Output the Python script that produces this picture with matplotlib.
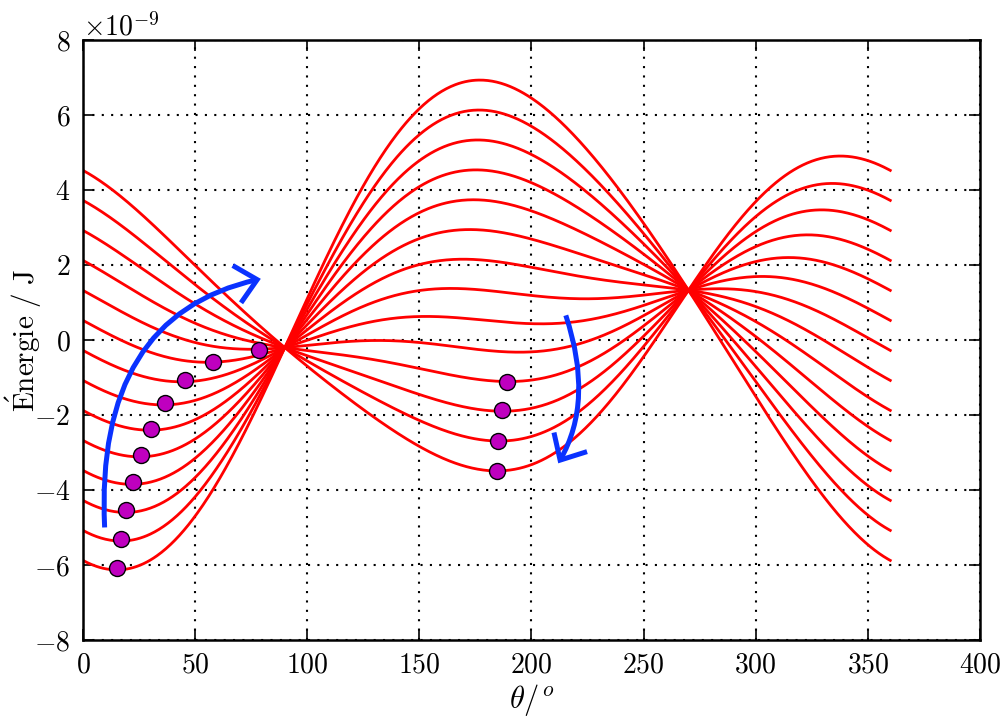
import numpy as np
import matplotlib
matplotlib.use("Agg")
import matplotlib.pyplot as plt
from matplotlib.patches import FancyArrowPatch

plt.rcParams['font.family'] = 'serif'
plt.rcParams['font.serif'] = ['cmr10', 'DejaVu Serif']
plt.rcParams['mathtext.fontset'] = 'cm'
plt.rcParams['axes.formatter.use_mathtext'] = True
plt.rcParams['axes.unicode_minus'] = True

# ---- data ---------------------------------------------------------------
# energy model E(theta) = A0 + A2 cos2θ + B1 sinθ + B2 sin2θ + C cosθ   (units 1e-9 J)
A0 = 0.545
A2 = -0.02
B1 = -0.765
B2 = -0.55
# family parameter (cosθ coefficient) for the 14 curves
C_values = [-6.4, -5.6, -4.8, -4.0, -3.2, -2.4, -1.6, -0.8, 0.0, 0.8, 1.6, 2.4, 3.2, 4.0]
SCALE = 1e-9

# marked minima (theta in degrees, energy in 1e-9 J)
min_theta = [15.3, 17.1, 19.3, 22.2, 25.7, 30.3, 36.7, 45.3, 57.8, 78.6,
             188.9, 186.7, 185.2, 184.5]
min_energy = [-6.09, -5.31, -4.54, -3.79, -3.07, -2.36, -1.69, -1.07, -0.58, -0.26,
              -1.11, -1.87, -2.68, -3.48]

# arrows (theta, energy) start / end points
arrow1_start = (9.7, -5.07)
arrow1_end = (80.5, 1.65)
arrow2_start = (214.9, 0.73)
arrow2_end = (211.3, -3.35)

theta = np.linspace(0, 360, 721)

fig = plt.figure(figsize=(10.05, 7.16), dpi=100)
ax = fig.add_axes([0.0826, 0.106, 0.8925, 0.838])

t = np.radians(theta)
for c in C_values:
    e = A0 + A2 * np.cos(2 * t) + B1 * np.sin(t) + B2 * np.sin(2 * t) + c * np.cos(t)
    ax.plot(theta, e * SCALE, color='#ff0000', lw=2.0, zorder=2)

ax.plot(min_theta, np.array(min_energy) * SCALE, 'o', ms=11.5, mfc='#bf00bf',
        mec='black', mew=1.0, zorder=4, linestyle='none')

for (s, e_, conn) in [(arrow1_start, arrow1_end, "angle3,angleA=93,angleB=12"),
                      (arrow2_start, arrow2_end, "angle3,angleA=-71,angleB=-121")]:
    arr = FancyArrowPatch((s[0], s[1] * SCALE), (e_[0], e_[1] * SCALE),
                          connectionstyle=conn,
                          arrowstyle="->,head_length=0.6,head_width=0.55",
                          mutation_scale=25, lw=3.6, color='#0a32ff', zorder=5,
                          capstyle='butt', joinstyle='miter')
    ax.add_patch(arr)

ax.set_xlim(0, 400)
ax.set_ylim(-8e-9, 8e-9)
ax.set_xticks(np.arange(0, 401, 50))
ax.set_yticks(np.arange(-8, 8.1, 2) * SCALE)

ax.grid(True, color='black', linestyle=(0, (1, 3.5)), lw=1.5)
ax.set_axisbelow(True)
for sp in ax.spines.values():
    sp.set_linewidth(1.8)

ax.tick_params(direction='in', length=8, width=1.2, top=True, right=True,
               labelsize=20, pad=9)
ax.yaxis.get_offset_text().set_fontsize(20)

ax.set_xlabel(r'$\theta/^o$', fontsize=22, labelpad=2)
ax.set_ylabel(r'$\mathrm{\acute{E}nergie\ /\ J}$', fontsize=21)
ax.yaxis.set_label_coords(-0.044, 0.5)

fig.savefig('out.png', dpi=100)
